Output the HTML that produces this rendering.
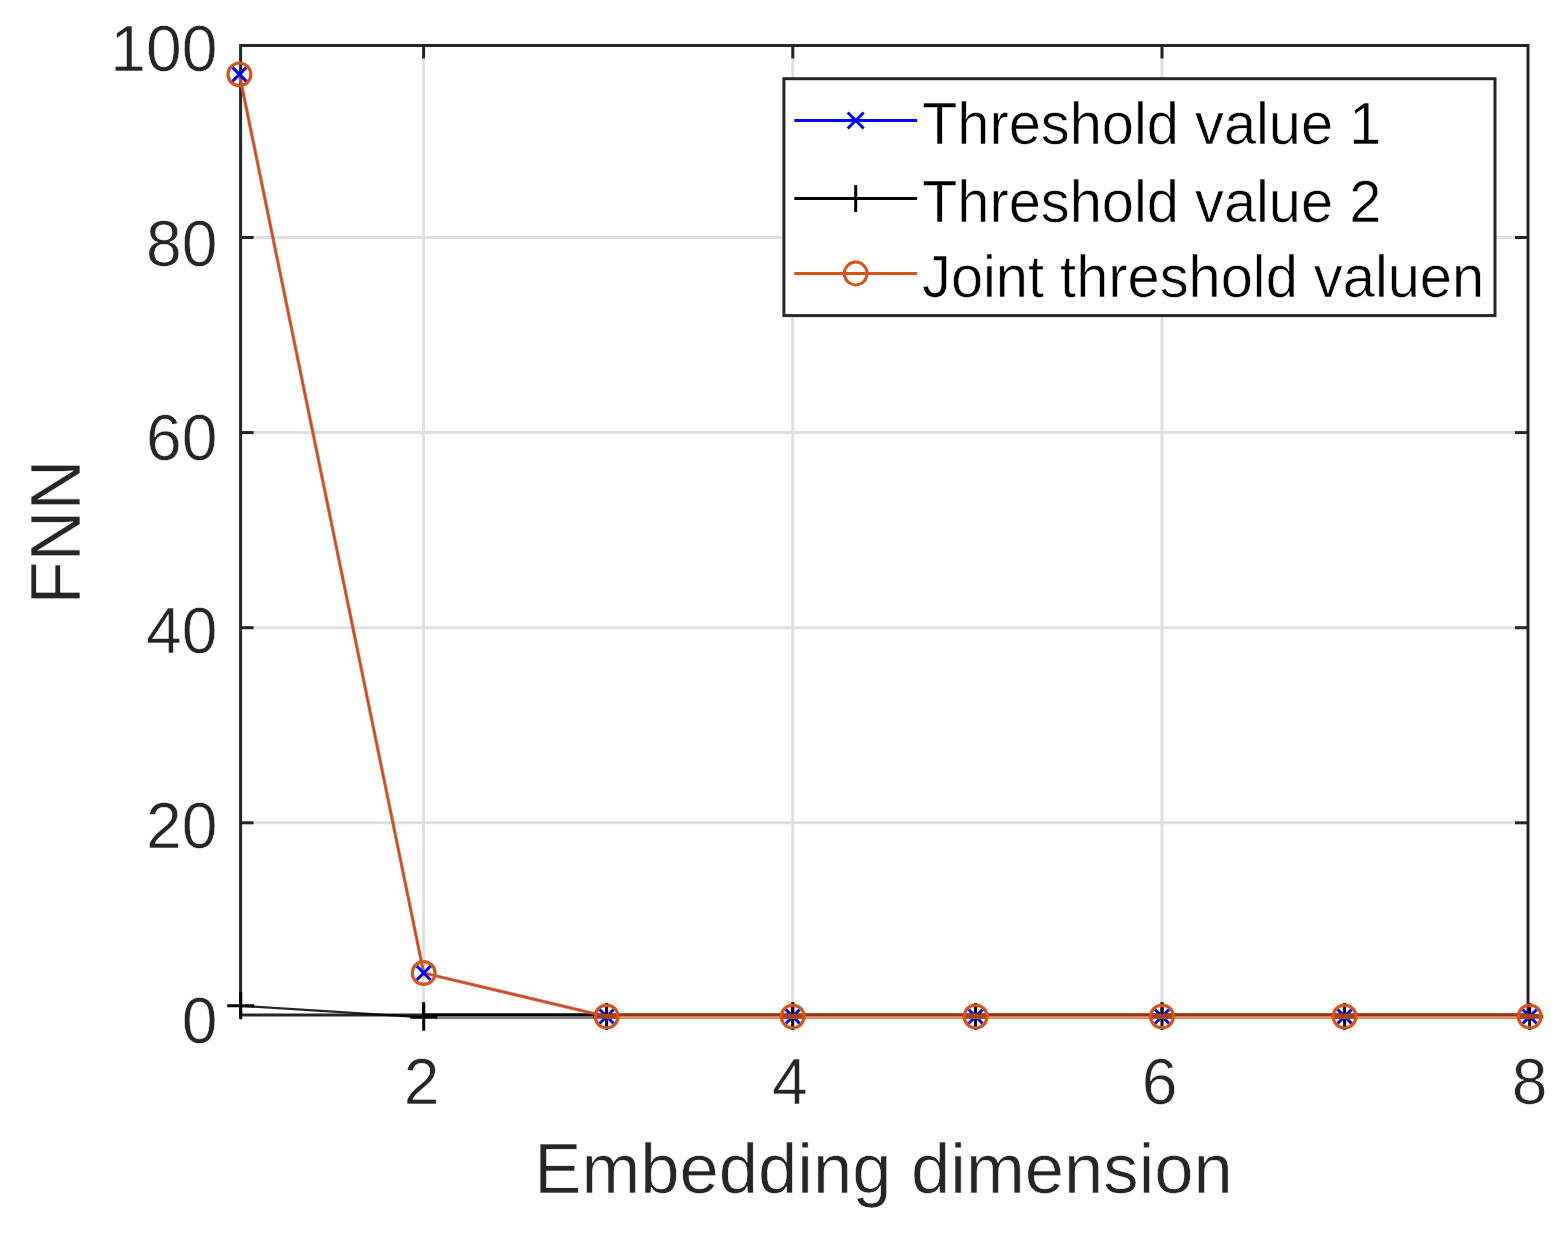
<!DOCTYPE html>
<html lang="en"><head><meta charset="utf-8"><title>FNN vs embedding dimension</title>
<style>
html,body{margin:0;padding:0;background:#fff;}
body{width:1564px;height:1237px;overflow:hidden;}
svg{display:block;font-family:"Liberation Sans",sans-serif;}
text{stroke:#fff;stroke-width:0.6px;paint-order:fill stroke;}
.tk{font-size:64.2px;fill:#262626;}
.lb{font-size:70.6px;fill:#262626;}
.lg{font-size:57.8px;fill:#000;}
</style></head><body>
<svg width="1564" height="1237" viewBox="0 0 1564 1237" role="img" aria-label="FNN versus embedding dimension">
<rect x="0" y="0" width="1564" height="1237" fill="#fff"/>
<g stroke="#dfdfdf" stroke-width="3" fill="none">
<line x1="423.6" y1="45.5" x2="423.6" y2="1015.0"/>
<line x1="792.8" y1="45.5" x2="792.8" y2="1015.0"/>
<line x1="1162.0" y1="45.5" x2="1162.0" y2="1015.0"/>
<line x1="240.6" y1="822.8" x2="1528.0" y2="822.8"/>
<line x1="240.6" y1="627.7" x2="1528.0" y2="627.7"/>
<line x1="240.6" y1="432.6" x2="1528.0" y2="432.6"/>
<line x1="240.6" y1="237.5" x2="1528.0" y2="237.5"/>
</g>
<g stroke="#262626" stroke-width="3" fill="none" stroke-linecap="butt">
<rect x="240.6" y="45.5" width="1287.4" height="969.5"/>
<line x1="423.6" y1="45.5" x2="423.6" y2="58.5"/>
<line x1="423.6" y1="1015.0" x2="423.6" y2="1002.0"/>
<line x1="792.8" y1="45.5" x2="792.8" y2="58.5"/>
<line x1="792.8" y1="1015.0" x2="792.8" y2="1002.0"/>
<line x1="1162.0" y1="45.5" x2="1162.0" y2="58.5"/>
<line x1="1162.0" y1="1015.0" x2="1162.0" y2="1002.0"/>
<line x1="240.6" y1="822.8" x2="253.6" y2="822.8"/>
<line x1="1528.0" y1="822.8" x2="1515.0" y2="822.8"/>
<line x1="240.6" y1="627.7" x2="253.6" y2="627.7"/>
<line x1="1528.0" y1="627.7" x2="1515.0" y2="627.7"/>
<line x1="240.6" y1="432.6" x2="253.6" y2="432.6"/>
<line x1="1528.0" y1="432.6" x2="1515.0" y2="432.6"/>
<line x1="240.6" y1="237.5" x2="253.6" y2="237.5"/>
<line x1="1528.0" y1="237.5" x2="1515.0" y2="237.5"/>
</g>
<polyline points="239.4,74.4 423.7,973.0 606.6,1016.5" stroke="#0000FF" stroke-width="1.4" fill="none"/>
<polyline points="239.4,1005.8 423.7,1017.3" stroke="#000" stroke-width="2.3" fill="none" stroke-opacity="0.85"/>
<rect x="423.7" y="1013.4" width="168.9" height="2.9" fill="#050505"/>
<rect x="435.7" y="1016.3" width="158.9" height="2.8" fill="#808080"/>
<polyline points="239.4,74.4 423.7,973.0 606.6,1016.5" stroke="#D95319" stroke-width="3.3" stroke-opacity="0.88" fill="none" stroke-linejoin="round"/>
<g stroke="#0000FF" stroke-width="3" fill="none">
<path d="M232.4 67.4L246.4 81.4M232.4 81.4L246.4 67.4"/>
<path d="M416.7 966.0L430.7 980.0M416.7 980.0L430.7 966.0"/>
<path d="M599.6 1009.5L613.6 1023.5M599.6 1023.5L613.6 1009.5"/>
<path d="M785.7 1009.5L799.7 1023.5M785.7 1023.5L799.7 1009.5"/>
<path d="M968.6 1009.5L982.6 1023.5M968.6 1023.5L982.6 1009.5"/>
<path d="M1155.0 1009.5L1169.0 1023.5M1155.0 1023.5L1169.0 1009.5"/>
<path d="M1337.6 1009.5L1351.6 1023.5M1337.6 1023.5L1351.6 1009.5"/>
<path d="M1522.7 1009.5L1536.7 1023.5M1522.7 1023.5L1536.7 1009.5"/>
</g>
<g stroke="#000" stroke-width="3" fill="none">
<path d="M227.2 1005.8L254.2 1005.8M240.7 992.3L240.7 1019.3"/>
<path d="M410.2 1017.3L437.2 1017.3M423.7 1003.8L423.7 1030.8"/>
<path d="M593.1 1016.5L620.1 1016.5M606.6 1003.0L606.6 1030.0"/>
<path d="M779.2 1016.5L806.2 1016.5M792.7 1003.0L792.7 1030.0"/>
<path d="M962.1 1016.5L989.1 1016.5M975.6 1003.0L975.6 1030.0"/>
<path d="M1148.5 1016.5L1175.5 1016.5M1162.0 1003.0L1162.0 1030.0"/>
<path d="M1331.1 1016.5L1358.1 1016.5M1344.6 1003.0L1344.6 1030.0"/>
<path d="M1516.2 1016.5L1543.2 1016.5M1529.7 1003.0L1529.7 1030.0"/>
</g>
<rect x="606.6" y="1013.4" width="923.1" height="2.9" fill="#8f3a10"/>
<rect x="606.6" y="1016.3" width="923.1" height="2.8" fill="#e98a63"/>
<rect x="595.2" y="1014.0" width="22.8" height="4.8" fill="#a3430f"/>
<rect x="781.3" y="1014.0" width="22.8" height="4.8" fill="#a3430f"/>
<rect x="964.2" y="1014.0" width="22.8" height="4.8" fill="#a3430f"/>
<rect x="1150.6" y="1014.0" width="22.8" height="4.8" fill="#a3430f"/>
<rect x="1333.2" y="1014.0" width="22.8" height="4.8" fill="#a3430f"/>
<rect x="1518.3" y="1014.0" width="22.8" height="4.8" fill="#a3430f"/>
<g stroke="#D95319" stroke-width="3.2" fill="none">
<circle cx="239.4" cy="74.4" r="11.4"/>
<circle cx="423.7" cy="973.0" r="11.4"/>
<circle cx="606.6" cy="1016.5" r="11.4"/>
<circle cx="792.7" cy="1016.5" r="11.4"/>
<circle cx="975.6" cy="1016.5" r="11.4"/>
<circle cx="1162.0" cy="1016.5" r="11.4"/>
<circle cx="1344.6" cy="1016.5" r="11.4"/>
<circle cx="1529.7" cy="1016.5" r="11.4"/>
</g>
<text class="tk" x="217.4" y="71.0" text-anchor="end">100</text>
<text class="tk" x="217.4" y="265.8" text-anchor="end">80</text>
<text class="tk" x="217.4" y="460.4" text-anchor="end">60</text>
<text class="tk" x="217.4" y="652.9" text-anchor="end">40</text>
<text class="tk" x="217.4" y="847.8" text-anchor="end">20</text>
<text class="tk" x="217.4" y="1043.0" text-anchor="end">0</text>
<text class="tk" x="421.6" y="1103.7" text-anchor="middle">2</text>
<text class="tk" x="789.8" y="1103.7" text-anchor="middle">4</text>
<text class="tk" x="1159.6" y="1103.7" text-anchor="middle">6</text>
<text class="tk" x="1529.6" y="1103.7" text-anchor="middle">8</text>
<text class="lb" x="883.6" y="1193.3" text-anchor="middle">Embedding dimension</text>
<text class="lb" transform="translate(80,532.0) rotate(-90)" x="0" y="0" text-anchor="middle">FNN</text>
<rect x="783.9" y="78.7" width="711.1" height="236.9" fill="#fff" stroke="#262626" stroke-width="3"/>
<g stroke="#0000FF" stroke-width="3" fill="none">
<line x1="794.3" y1="120.5" x2="917.1" y2="120.5"/>
<path d="M847.7 112.5L863.7 128.5M847.7 128.5L863.7 112.5"/>
</g>
<text class="lg" transform="translate(922.0,143.8) scale(1,1.03)" x="0" y="0">Threshold value 1</text>
<g stroke="#000" stroke-width="3" fill="none">
<line x1="794.3" y1="198.6" x2="917.1" y2="198.6"/>
<path d="M855.7 185.1L855.7 212.1"/>
</g>
<text class="lg" transform="translate(922.0,222.0) scale(1,1.03)" x="0" y="0">Threshold value 2</text>
<g stroke="#D95319" stroke-width="3" fill="none">
<line x1="794.3" y1="273.5" x2="917.1" y2="273.5"/>
<circle cx="855.7" cy="273.5" r="11.4"/>
</g>
<text class="lg" transform="translate(922.0,296.5) scale(1,1.03)" x="0" y="0">Joint threshold valuen</text>
</svg>
</body></html>
